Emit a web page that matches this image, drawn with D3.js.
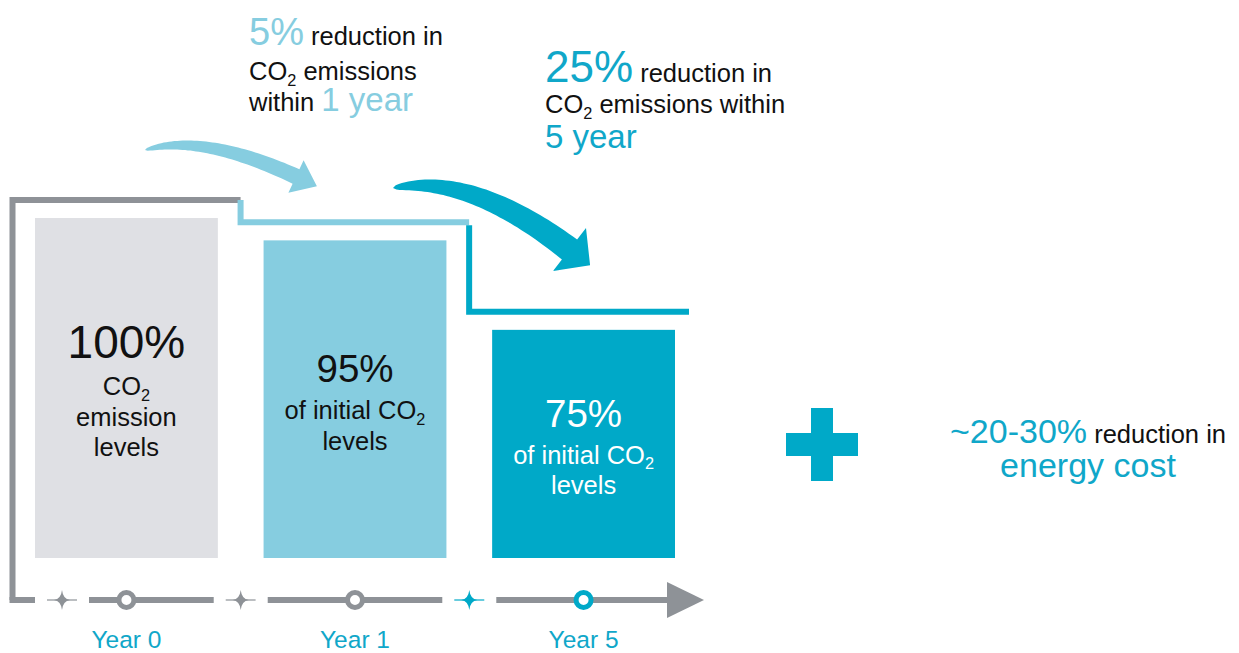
<!DOCTYPE html>
<html>
<head>
<meta charset="utf-8">
<script src="https://cdn.jsdelivr.net/npm/d3@7"></script>
<style>
  body { margin: 0; background: #fff; }
  svg { display: block; font-family: "Liberation Sans", Arial, sans-serif; }
</style>
</head>
<body>
<div id="chart"></div>
<script>
// data
const years = ["Year 0", "Year 1", "Year 5"];
const levels = [100, 95, 75];
const levelLabels = ["100%", "95%", "75%"];
const levelCaptions = [
  ["CO_2", "emission", "levels"],
  ["of initial CO_2", "levels"],
  ["of initial CO_2", "levels"]
];
// *...* marks the highlighted part of a line
const noteYear1 = ["*5%* reduction in", "CO_2 emissions", "within *1 year*"];
const noteYear5 = ["*25%* reduction in", "CO_2 emissions within", "*5 year*"];
const noteEnergy = ["*~20-30%* reduction in", "*energy cost*"];

const width = 1239, height = 653;
const teal = "#00a9c8", light = "#86cde0", grayBar = "#dfe0e4",
      grayLine = "#8e9297", ink = "#111111", tealText = "#10a7c9";
const barColors = [grayBar, light, teal];
const labelColors = [ink, ink, "#ffffff"];

const svg = d3.select("#chart").append("svg")
  .attr("width", width)
  .attr("height", height);

const x = d3.scaleBand()
  .domain(years)
  .range([35, 675])
  .paddingInner(0.2);

const y = d3.scaleLinear()
  .domain([24, 100])
  .range([558, 218]);

const bw = x.bandwidth();

// text with highlighted parts and CO_2 subscripts
function rich(sel, str, size, hiSize, hiColor, baseColor) {
  const parts = str.split(/(\*[^*]+\*|_2)/).filter(s => s.length);
  let shift = 0;
  parts.forEach(p => {
    const ts = sel.append("tspan");
    if (p === "_2") {
      shift = size * 0.22;
      ts.text("2").attr("font-size", size * 0.64).attr("dy", shift).attr("fill", baseColor);
      return;
    }
    if (shift) { ts.attr("dy", -shift); shift = 0; }
    if (p[0] === "*") {
      ts.text(p.slice(1, -1)).attr("font-size", hiSize).attr("fill", hiColor);
    } else {
      ts.text(p).attr("font-size", size).attr("fill", baseColor);
    }
  });
}

// step outline above the bars
const stepX = years.map(d => x(d) - 24);
const stepColors = [grayLine, light, teal];
years.forEach((d, i) => {
  const yy = y(levels[i]) - 18;
  const x0 = i === 0 ? 12.5 : stepX[i] + 1;
  const x1 = i < years.length - 1 ? stepX[i + 1] + 1 : x(d) + bw + 14;
  const y0 = i === 0 ? 600 : (i === 1 ? 200 : y(levels[i - 1]) - 18 + 3);
  svg.append("path")
    .attr("d", `M${x0},${y0}L${x0},${yy}L${x1},${yy}`)
    .attr("fill", "none")
    .attr("stroke", stepColors[i])
    .attr("stroke-width", 6);
});

// bars
svg.selectAll("rect.bar")
  .data(years)
  .join("rect")
  .attr("class", "bar")
  .attr("x", d => x(d))
  .attr("y", (d, i) => y(levels[i]))
  .attr("width", bw)
  .attr("height", (d, i) => y.range()[0] - y(levels[i]))
  .attr("fill", (d, i) => barColors[i]);

// labels inside bars
years.forEach((d, i) => {
  const cx = x(d) + bw / 2;
  const cy = (y(levels[i]) + y.range()[0]) / 2;
  const big = i === 0 ? 46 : 38.5;
  const n = levelCaptions[i].length;
  const blockH = big * 0.72 + 6 + n * 31;
  const base = cy + 3 - blockH / 2 + big * 0.72;
  svg.append("text")
    .attr("x", cx).attr("y", base)
    .attr("text-anchor", "middle")
    .attr("font-size", big)
    .attr("fill", labelColors[i])
    .text(levelLabels[i]);
  levelCaptions[i].forEach((c, k) => {
    const t = svg.append("text")
      .attr("x", cx).attr("y", base + 37 + k * 30.5)
      .attr("text-anchor", "middle");
    rich(t, c, 25.5, 25.5, labelColors[i], labelColors[i]);
  });
});

// timeline
const tlY = 600;
const stars = years.map((d, i) => i === 0 ? x(d) + 27 : (x(years[i - 1]) + bw + x(d)) / 2);
const segs = [[9.5, stars[0] - 27]];
stars.forEach((s, i) => segs.push([s + 27, i < stars.length - 1 ? stars[i + 1] - 27 : 668]));
svg.selectAll("line.tl")
  .data(segs)
  .join("line")
  .attr("class", "tl")
  .attr("x1", d => d[0]).attr("x2", d => d[1])
  .attr("y1", tlY).attr("y2", tlY)
  .attr("stroke", grayLine)
  .attr("stroke-width", 6);
svg.append("path")
  .attr("d", `M667,${tlY - 18}L704,${tlY}L667,${tlY + 18}Z`)
  .attr("fill", grayLine);

const markColors = [grayLine, grayLine, teal];
stars.forEach((s, i) => {
  svg.append("line")
    .attr("x1", s - 15).attr("x2", s + 15)
    .attr("y1", tlY).attr("y2", tlY)
    .attr("stroke", markColors[i]).attr("stroke-width", 1.2);
  svg.append("path")
    .attr("d", `M${s},${tlY - 10}Q${s + 1},${tlY - 1} ${s + 8},${tlY}Q${s + 1},${tlY + 1} ${s},${tlY + 10}` +
               `Q${s - 1},${tlY + 1} ${s - 8},${tlY}Q${s - 1},${tlY - 1} ${s},${tlY - 10}Z`)
    .attr("fill", markColors[i]);
});
svg.selectAll("circle.yr")
  .data(years)
  .join("circle")
  .attr("class", "yr")
  .attr("cx", d => x(d) + bw / 2)
  .attr("cy", tlY)
  .attr("r", 7.5)
  .attr("fill", "#fff")
  .attr("stroke", (d, i) => markColors[i])
  .attr("stroke-width", 5);

// year labels
svg.append("g")
  .attr("transform", "translate(0,648)")
  .call(d3.axisBottom(x).tickSize(0))
  .call(g => g.select(".domain").remove())
  .call(g => g.selectAll("text")
    .attr("y", 0).attr("dy", null)
    .attr("font-family", "Liberation Sans, Arial, sans-serif")
    .attr("font-size", 24.5)
    .attr("fill", tealText));

// curved arrows
function swoosh(p0, c, p1, wEnd, headW, headL) {
  const N = 50, top = [], bot = [];
  for (let i = 0; i <= N; i++) {
    const t = i / N;
    const px = (1 - t) * (1 - t) * p0[0] + 2 * t * (1 - t) * c[0] + t * t * p1[0];
    const py = (1 - t) * (1 - t) * p0[1] + 2 * t * (1 - t) * c[1] + t * t * p1[1];
    let dx = 2 * (1 - t) * (c[0] - p0[0]) + 2 * t * (p1[0] - c[0]);
    let dy = 2 * (1 - t) * (c[1] - p0[1]) + 2 * t * (p1[1] - c[1]);
    const L = Math.hypot(dx, dy); dx /= L; dy /= L;
    const w = wEnd * Math.pow(t, 0.45) / 2;
    top.push([px + dy * w, py - dx * w]);
    bot.push([px - dy * w, py + dx * w]);
  }
  let dx = p1[0] - c[0], dy = p1[1] - c[1];
  const L = Math.hypot(dx, dy); dx /= L; dy /= L;
  const h1 = [p1[0] + dy * headW / 2, p1[1] - dx * headW / 2];
  const tip = [p1[0] + dx * headL, p1[1] + dy * headL];
  const h2 = [p1[0] - dy * headW / 2, p1[1] + dx * headW / 2];
  const pts = top.concat([h1, tip, h2], bot.reverse());
  return "M" + pts.map(p => p[0].toFixed(1) + "," + p[1].toFixed(1)).join("L") + "Z";
}
svg.append("path")
  .attr("d", swoosh([145, 150], [202, 133], [296, 176.5], 16, 36, 23))
  .attr("fill", light);
svg.append("path")
  .attr("d", swoosh([393, 188], [470, 173], [569.5, 249.5], 25, 54, 26))
  .attr("fill", teal);

// notes
function note(lines, x0, baselines, hiSizes, hiColor, anchor) {
  lines.forEach((l, i) => {
    const t = svg.append("text")
      .attr("x", x0).attr("y", baselines[i])
      .attr("text-anchor", anchor);
    rich(t, l, 25.5, hiSizes[i], hiColor, ink);
  });
}
note(noteYear1, 249, [45, 80, 111], [38, 38, 33], light, "start");
note(noteYear5, 545, [82, 113, 148], [44, 44, 33], tealText, "start");
note(noteEnergy, 1088, [443, 477], [34, 34], tealText, "middle");

// plus sign
svg.append("rect").attr("x", 786).attr("y", 433).attr("width", 72).attr("height", 23).attr("fill", teal);
svg.append("rect").attr("x", 811).attr("y", 408).attr("width", 22).attr("height", 73).attr("fill", teal);
</script>
</body>
</html>
